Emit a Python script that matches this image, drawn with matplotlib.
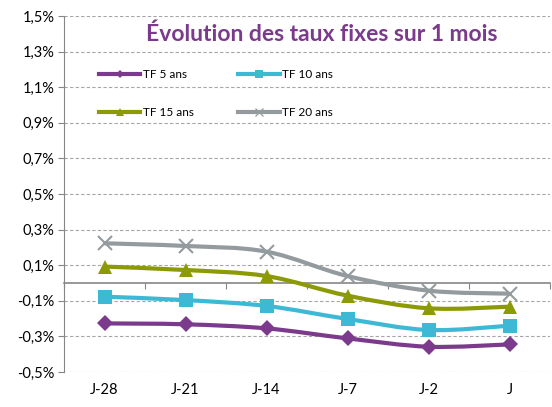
import numpy as np
import matplotlib.pyplot as plt
from matplotlib.path import Path
from matplotlib.patches import PathPatch
from matplotlib.lines import Line2D

# Data (values in %)
categories = ["J-28", "J-21", "J-14", "J-7", "J-2", "J"]
tf5 = [-0.227, -0.232, -0.255, -0.311, -0.358, -0.345]
tf10 = [-0.077, -0.096, -0.129, -0.202, -0.264, -0.240]
tf15 = [0.092, 0.073, 0.039, -0.071, -0.142, -0.133]
tf20 = [0.223, 0.208, 0.176, 0.039, -0.043, -0.060]
series_names = ["TF 5 ans", "TF 10 ans", "TF 15 ans", "TF 20 ans"]

colors = ["#7B3A8B", "#3DB9D5", "#8C9A06", "#949B9F"]
markers = ["D", "s", "^", "x"]
msizes = [8, 10, 10, 10]

plt.rcParams['font.family'] = ['Lato', 'DejaVu Sans']


def smooth_path(x, y, t=1 / 6):
    # cubic bezier through points (Catmull-Rom style, like Excel smoothing)
    verts = [(x[0], y[0])]
    codes = [Path.MOVETO]
    n = len(x)
    for i in range(n - 1):
        x0, y0 = (x[i - 1], y[i - 1]) if i > 0 else (x[i], y[i])
        x3, y3 = (x[i + 2], y[i + 2]) if i + 2 < n else (x[i + 1], y[i + 1])
        c1 = (x[i] + (x[i + 1] - x0) * t, y[i] + (y[i + 1] - y0) * t)
        c2 = (x[i + 1] - (x3 - x[i]) * t, y[i + 1] - (y3 - y[i]) * t)
        verts += [c1, c2, (x[i + 1], y[i + 1])]
        codes += [Path.CURVE4] * 3
    return Path(verts, codes)


fig = plt.figure(figsize=(5.52, 4.07), dpi=100)
ax = fig.add_axes([64 / 552, 35 / 407, 486 / 552, 356 / 407])

x = np.arange(len(categories))
ax.set_xlim(-0.5, len(categories) - 0.5)
ax.set_ylim(-0.5, 1.5)

# grid
yt = np.arange(-0.5, 1.51, 0.2)
ax.set_yticks(yt)
ax.set_yticklabels([("%.1f%%" % v).replace(".", ",") for v in yt], fontsize=10.5)
ax.yaxis.grid(True, linestyle=(0, (3, 2)), color="#a6a6a6", linewidth=0.8)
ax.set_axisbelow(True)
ax.tick_params(axis="y", length=4, color="#868686", pad=3)

# x axis: labels at bottom, axis line at zero
ax.set_xticks(x)
ax.set_xticklabels(categories, fontsize=10.5)
ax.tick_params(axis="x", length=0, pad=8)
for s in ["top", "right", "bottom"]:
    ax.spines[s].set_visible(False)
ax.spines["left"].set_color("#868686")

zero_ax = ax.secondary_xaxis(0.25)
zero_ax.set_xticks(np.arange(-0.5, len(categories), 1.0))
zero_ax.set_xticklabels([])
zero_ax.tick_params(length=4, color="#868686")
zero_ax.spines["bottom"].set_color("#868686")
zero_ax.spines["bottom"].set_linewidth(1.2)

handles = []
for vals, name, c, m, ms in zip([tf5, tf10, tf15, tf20], series_names, colors, markers, msizes):
    ax.add_patch(PathPatch(smooth_path(x, vals), facecolor="none", edgecolor=c,
                           linewidth=3, zorder=3))
    mew = 1.5 if m == "x" else 0
    ax.plot(x, vals, linestyle="none", marker=m, color=c, markersize=ms,
            markeredgewidth=mew, zorder=4)
    handles.append(Line2D([], [], color=c, linewidth=3, marker=m,
                          markersize=ms * 0.55, markeredgewidth=mew * 0.6))

# legend fills column by column: reorder so rows read 5/10 then 15/20
order = [0, 2, 1, 3]
leg = ax.legend(handles=[handles[i] for i in order],
                labels=[series_names[i] for i in order], ncol=2, loc="upper left",
                bbox_to_anchor=(0.05, 0.88), frameon=False, fontsize=8.5,
                handlelength=3.5, handletextpad=0.2, columnspacing=3.8,
                labelspacing=2.3)

ax.text(0.53, 0.98, "Évolution des taux fixes sur 1 mois", transform=ax.transAxes,
        ha="center", va="top", fontsize=16.5, fontweight="bold", color="#7B3A8B")

plt.savefig("out.png", dpi=100)
